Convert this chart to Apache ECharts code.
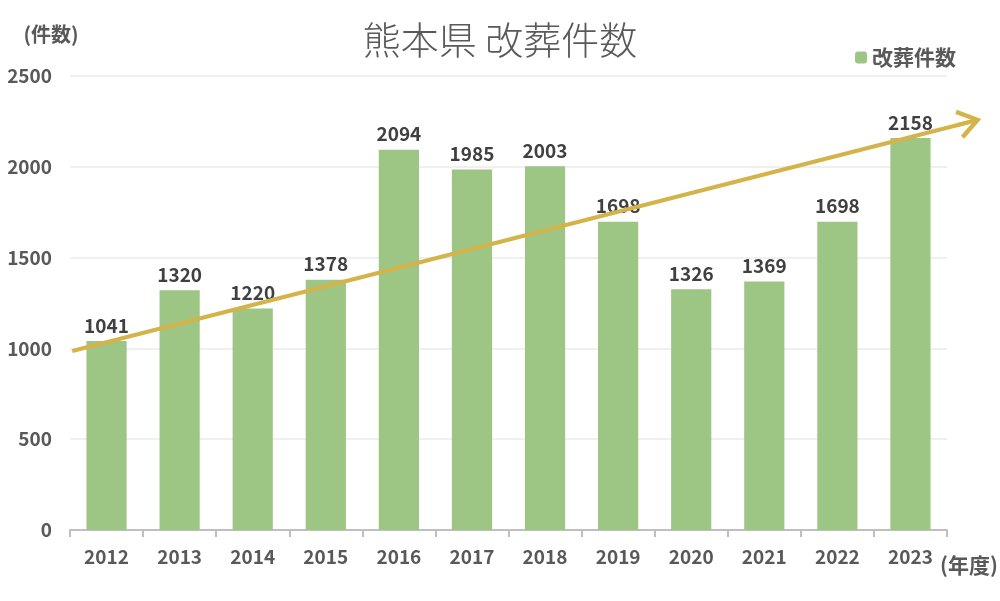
<!DOCTYPE html>
<html>
<head>
<meta charset="utf-8">
<script src="https://cdn.jsdelivr.net/npm/echarts@6/dist/echarts.min.js"></script>
<style>
  html, body { margin: 0; padding: 0; background: #fff; }
  #main { width: 1000px; height: 601px; }
</style>
</head>
<body>
<div id="main"></div>
<script>
// 熊本県 改葬件数
const years = ["2012", "2013", "2014", "2015", "2016", "2017", "2018", "2019", "2020", "2021", "2022", "2023"];
const reburials = [1041, 1320, 1220, 1378, 2094, 1985, 2003, 1698, 1326, 1369, 1698, 2158];
// 傾向線（矢印）の始点・終点 [カテゴリ位置, 件数]
const trendStart = [-0.47, 986];
const trendEnd = [11.81, 2247];

const font = "'Noto Sans CJK JP', 'Noto Sans', sans-serif";
// 矢印用グリッドはプロット領域より右に広げる（カテゴリ幅 = 877/12 px）
const plotLeft = 70, plotRight = 53, arrowRight = 10;
const catW = (1000 - plotLeft - plotRight) / years.length;
const arrowMax = -0.5 + (1000 - plotLeft - arrowRight) / catW;

const chart = echarts.init(document.getElementById("main"));
chart.setOption({
  textStyle: { fontFamily: font },
  title: {
    text: "熊本県 改葬件数",
    left: "center",
    top: 16,
    textStyle: { fontFamily: font, fontSize: 38, fontWeight: 300, color: "#595959" },
  },
  legend: {
    data: ["改葬件数"],
    right: 39,
    top: 42,
    itemWidth: 12,
    itemHeight: 12,
    itemGap: 6,
    textStyle: { fontFamily: font, fontSize: 21, fontWeight: "bold", color: "#595959" },
  },
  grid: [
    { left: plotLeft, right: plotRight, top: 76, bottom: 71, containLabel: false, outerBoundsMode: "none" },
    { left: plotLeft, right: arrowRight, top: 76, bottom: 71, containLabel: false, outerBoundsMode: "none" },
  ],
  xAxis: [
    {
      type: "category",
      gridIndex: 0,
      data: years,
      name: "(年度)",
      nameLocation: "end",
      nameGap: -7,
      nameMoveOverlap: false,
      nameTextStyle: { fontSize: 21, fontWeight: "bold", color: "#595959", verticalAlign: "top", padding: [25, 0, 0, 0] },
      axisLine: { lineStyle: { color: "#bfbfbf", width: 2 } },
      axisTick: { show: true, length: 7, lineStyle: { color: "#bfbfbf", width: 2 } },
      axisLabel: { fontSize: 19, fontWeight: "bold", color: "#595959", margin: 17 },
    },
    {
      // 矢印用の非表示軸（カテゴリ中心に合わせる）
      type: "value",
      gridIndex: 1,
      min: -0.5,
      max: arrowMax,
      show: false,
    },
  ],
  yAxis: [
    {
      type: "value",
      gridIndex: 0,
      min: 0,
      max: 2500,
      interval: 500,
      name: "(件数)",
      nameLocation: "end",
      nameGap: 32,
      nameMoveOverlap: false,
      nameTextStyle: { fontSize: 20, fontWeight: "bold", color: "#595959", align: "center", padding: [0, 38, 0, 0] },
      axisLine: { show: false },
      axisTick: { show: false },
      axisLabel: { fontSize: 19, fontWeight: "bold", color: "#595959", margin: 18, formatter: (v) => String(v) },
      splitLine: { lineStyle: { color: "#ebebeb", width: 1.5 } },
    },
    {
      type: "value",
      gridIndex: 1,
      min: 0,
      max: 2500,
      show: false,
    },
  ],
  series: [
    {
      name: "改葬件数",
      type: "bar",
      barWidth: "55%",
      itemStyle: { color: "#9dc584" },
      label: {
        show: true,
        position: "top",
        distance: 6,
        fontSize: 19,
        fontWeight: "bold",
        color: "#404040",
      },
      data: reburials,
    },
    {
      name: "trend",
      type: "line",
      xAxisIndex: 1,
      yAxisIndex: 1,
      clip: false,
      symbol: "none",
      silent: true,
      lineStyle: { opacity: 0 },
      data: [trendStart, trendEnd],
      markLine: {
        silent: true,
        symbol: ["none", "path://M0,0 L12,17 L9,19 L0,6 L-9,19 L-12,17 Z M-1.6,3 L1.6,3 L1.6,19 L-1.6,19 Z"],
        symbolSize: [30, 24],
        label: { show: false },
        emphasis: { disabled: true },
        lineStyle: { color: "#d4b44a", width: 4, type: "solid", opacity: 1 },
        data: [[{ coord: trendStart }, { coord: trendEnd }]],
      },
    },
  ],
});
</script>
</body>
</html>
